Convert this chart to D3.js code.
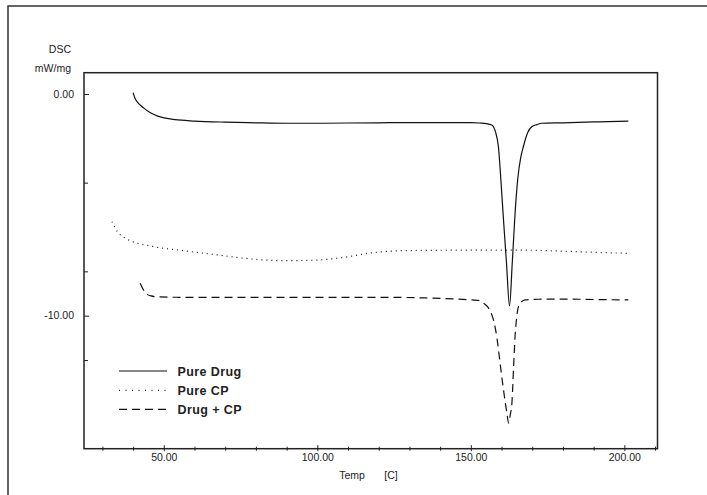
<!DOCTYPE html>
<html>
<head>
<meta charset="utf-8">
<script src="https://cdn.jsdelivr.net/npm/d3@7"></script>
<style>
  body { margin: 0; background: #fff; }
  text { font-family: "Liberation Sans", Arial, sans-serif; fill: #222; }
</style>
</head>
<body>
<script>
// DSC traces, temperature in C, heat flow in mW/mg
let drugT = [40, 40.4, 40.9, 41.6, 42.4, 43.6, 45.5, 48, 50.1, 53.7, 60, 70, 80, 90, 100, 110, 120, 130,
    140, 150, 153, 155, 156.8, 158, 159, 159.8, 160.6, 161.6, 162.6, 163.5, 164.4, 165.3, 166.2, 167.1,
    168.5, 169.9, 171.5, 173.1, 180, 190, 201.3]
let drugV = [0.06, -0.12, -0.27, -0.40, -0.51, -0.65, -0.84, -1.00, -1.08, -1.16, -1.22, -1.27, -1.30,
    -1.32, -1.32, -1.31, -1.30, -1.29, -1.29, -1.29, -1.31, -1.34, -1.40, -1.7, -2.4, -3.9, -5.6, -7.6,
    -9.56, -7.6, -5.4, -3.8, -2.9, -2.38, -1.75, -1.47, -1.38, -1.32, -1.30, -1.26, -1.22]

let cpT = [33.1, 34.9, 38.1, 45.8, 56.6, 67.5, 78.3, 89.2, 100, 108.7, 116.3, 127.2, 140, 150.5, 160,
    170, 180, 190, 201.3]
let cpV = [-5.76, -6.21, -6.55, -6.86, -7.07, -7.26, -7.44, -7.52, -7.49, -7.37, -7.19, -7.07, -7.05,
    -7.04, -7.04, -7.05, -7.09, -7.14, -7.19]

let mixT = [42.3, 43.2, 44.1, 45.8, 48, 55, 70, 90, 110, 121.7, 135, 145, 150.4, 153, 154.1, 155.5,
    156.5, 157.4, 158.5, 159.5, 160.4, 161.2, 161.8, 162.3, 162.8, 163.4, 163.9, 164.4, 165, 165.5,
    166.5, 167.7, 172, 180, 190, 201.3]
let mixV = [-8.54, -8.8, -8.99, -9.11, -9.15, -9.17, -9.17, -9.17, -9.17, -9.17, -9.2, -9.25, -9.29,
    -9.32, -9.43, -9.6, -9.85, -10.2, -11.0, -12.1, -13.1, -13.9, -14.45, -14.85, -14.5, -13.9, -12.4,
    -10.95, -10.0, -9.59, -9.38, -9.29, -9.26, -9.25, -9.27, -9.29]

let seriesNames = ["Pure Drug", "Pure CP", "Drug + CP"]
let xMajor = [50, 100, 150, 200]
let xMinor = [30, 40, 60, 70, 80, 90, 110, 120, 130, 140, 160, 170, 180, 190, 210]
let yMajor = [0, -10]
let yMinor = [-4, -8, -12]

let W = 707, H = 495
let pLeft = 84, pRight = 657.5, pTop = 72.7, pBottom = 448.7

let svg = d3.select("body").append("svg").attr("width", W).attr("height", H)

// outer frame (only top and left edges show)
svg.append("path").attr("d", "M8,495V6H707").attr("fill", "none")
    .attr("stroke", "#333").attr("stroke-width", 1.5)

let x = d3.scaleLinear().domain([24.0, 210.8]).range([pLeft, pRight])
let y = d3.scaleLinear().domain([0.96, -16]).range([pTop, pBottom])

svg.append("rect").attr("x", pLeft).attr("y", pTop)
    .attr("width", pRight - pLeft).attr("height", pBottom - pTop)
    .attr("fill", "none").attr("stroke", "#222").attr("stroke-width", 1.5)

// plain hyphen for negatives, like the original software
let fmt = d3.formatLocale({decimal: ".", thousands: ",", grouping: [3], currency: ["", ""], minus: "-"})
    .format(".2f")

// x axis: ticks cross the line
let xMin = svg.append("g").attr("transform", "translate(0," + pBottom + ")")
    .call(d3.axisBottom(x).tickValues(xMinor).tickSize(2).tickFormat(""))
xMin.select(".domain").remove()
xMin.selectAll("line").attr("y1", -2).attr("stroke", "#222")

let xMaj = svg.append("g").attr("transform", "translate(0," + pBottom + ")")
    .call(d3.axisBottom(x).tickValues(xMajor).tickSize(2.5).tickPadding(2).tickFormat(fmt))
xMaj.select(".domain").remove()
xMaj.selectAll("line").attr("y1", -3.5).attr("stroke", "#222")
xMaj.selectAll("text").attr("font-size", "10.5px").attr("fill", "#222")
    .style("font-family", "Liberation Sans, Arial, sans-serif")

// y axis: ticks point inward
let yMin = svg.append("g").attr("transform", "translate(" + pLeft + ",0)")
    .call(d3.axisRight(y).tickValues(yMinor).tickSize(4).tickFormat(""))
yMin.select(".domain").remove()
yMin.selectAll("line").attr("stroke", "#222")

let yMaj = svg.append("g").attr("transform", "translate(" + pLeft + ",0)")
    .call(d3.axisRight(y).tickValues(yMajor).tickSize(5).tickFormat(""))
yMaj.select(".domain").remove()
yMaj.selectAll("line").attr("stroke", "#222")

svg.selectAll(".ylab").data(yMajor).enter().append("text")
    .attr("x", 74).attr("y", d => y(d) + 3.8)
    .attr("text-anchor", "end").attr("font-size", "10.5px")
    .text(d => fmt(d))

svg.append("text").attr("x", 71).attr("y", 53).attr("text-anchor", "end")
    .attr("font-size", "10.5px").text("DSC")
svg.append("text").attr("x", 71).attr("y", 71.5).attr("text-anchor", "end")
    .attr("font-size", "10.5px").text("mW/mg")
svg.append("text").attr("x", 352).attr("y", 479).attr("text-anchor", "middle")
    .attr("font-size", "10.5px").text("Temp")
svg.append("text").attr("x", 391).attr("y", 479).attr("text-anchor", "middle")
    .attr("font-size", "10.5px").text("[C]")

// curves
let dashes = [null, "1,4", "8,5"]
let allT = [drugT, cpT, mixT]
let allV = [drugV, cpV, mixV]
let line = d3.line().x(d => x(d[0])).y(d => y(d[1])).curve(d3.curveMonotoneX)

allT.forEach(function(ts, k) {
    let pts = ts.map((t, j) => [t, allV[k][j]])
    svg.append("path").datum(pts).attr("d", line)
        .attr("fill", "none").attr("stroke", "#111").attr("stroke-width", 1.2)
        .attr("stroke-dasharray", dashes[k])
})

// legend
let legendY = [371, 390.3, 409.3]
let leg = svg.selectAll(".leg").data(seriesNames).enter().append("g")
leg.append("line").attr("x1", 119).attr("x2", 167)
    .attr("y1", (d, k) => legendY[k]).attr("y2", (d, k) => legendY[k])
    .attr("stroke", "#111").attr("stroke-width", 1.2)
    .attr("stroke-dasharray", (d, k) => k == 1 ? "1,5.5" : dashes[k])
leg.append("text").attr("x", 177.5).attr("y", (d, k) => legendY[k] + 4.5)
    .attr("font-size", "12.5px").attr("font-weight", "bold")
    .attr("letter-spacing", "0.4px").text(d => d)
</script>
</body>
</html>
